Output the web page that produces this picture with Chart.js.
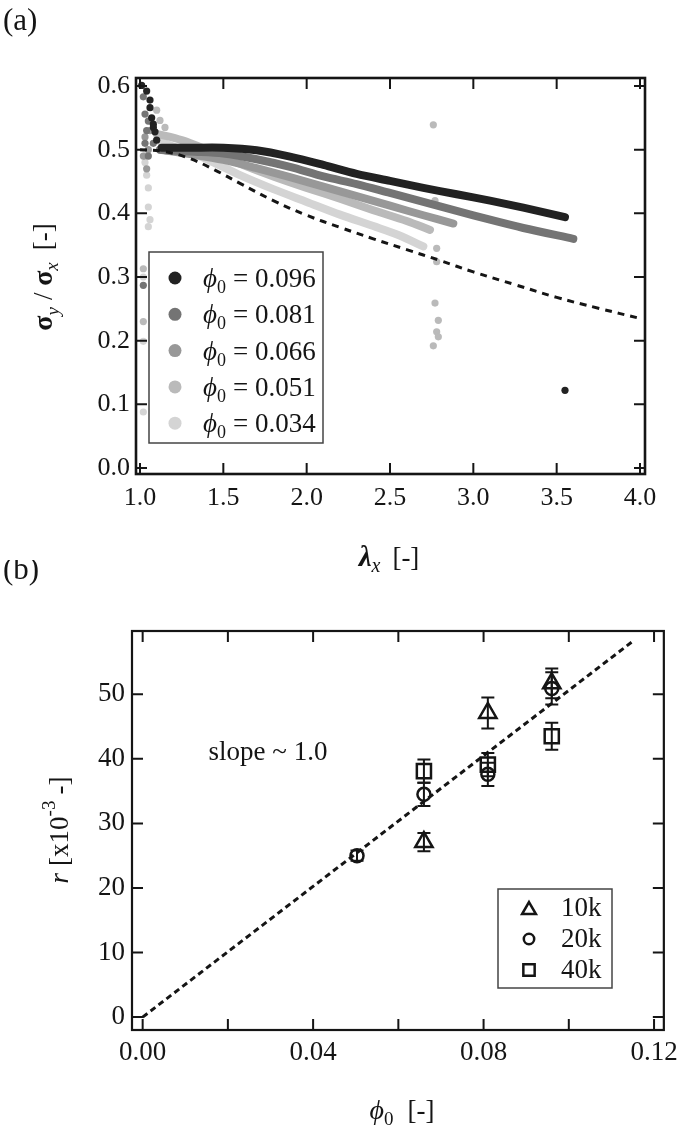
<!DOCTYPE html>
<html>
<head>
<meta charset="utf-8">
<script src="https://cdn.jsdelivr.net/npm/chart.js@4.4.1/dist/chart.umd.min.js"></script>
<style>
html, body { margin: 0; padding: 0; background: #fff; }
#chartA { position: absolute; left: 0; top: 0; }
#chartB { position: absolute; left: 0; top: 560px; }
</style>
</head>
<body>
<canvas id="chartA" width="685" height="600"></canvas>
<canvas id="chartB" width="685" height="566"></canvas>
<script>
// ---------- panel (a): sigma_y / sigma_x vs lambda_x ----------
const phiLabels = ['0.096', '0.081', '0.066', '0.051', '0.034'];
const greys = ['#222222', '#747474', '#989898', '#bababa', '#d4d4d4'];

// dense bands, read along the middle of each band
const band096 = [[1.13, 0.503], [1.3, 0.503], [1.5, 0.503], [1.7, 0.499], [1.9, 0.489], [2.1, 0.476], [2.3, 0.462],
                 [2.5, 0.451], [2.7, 0.44], [2.9, 0.43], [3.1, 0.42], [3.3, 0.409], [3.55, 0.394]];
const band081 = [[1.12, 0.5], [1.3, 0.497], [1.5, 0.494], [1.7, 0.485], [1.9, 0.473], [2.1, 0.458], [2.3, 0.446],
                 [2.5, 0.432], [2.7, 0.418], [2.9, 0.404], [3.1, 0.39], [3.3, 0.377], [3.6, 0.36]];
const band066 = [[1.12, 0.5], [1.3, 0.493], [1.5, 0.484], [1.7, 0.471], [1.9, 0.457], [2.1, 0.442], [2.3, 0.427],
                 [2.5, 0.412], [2.7, 0.397], [2.88, 0.384]];
const band051 = [[1.1, 0.525], [1.25, 0.515], [1.4, 0.5], [1.6, 0.478], [1.8, 0.458], [2.0, 0.44], [2.2, 0.423],
                 [2.4, 0.405], [2.6, 0.388], [2.74, 0.374]];
const band034 = [[1.1, 0.515], [1.25, 0.5], [1.4, 0.485], [1.6, 0.46], [1.8, 0.438], [2.0, 0.418], [2.2, 0.398],
                 [2.4, 0.38], [2.55, 0.366], [2.7, 0.348]];

// loose points (start of loading, end of test)
const loose096 = [[1.01, 0.601], [1.04, 0.592], [1.06, 0.578], [1.06, 0.566], [1.07, 0.55], [1.08, 0.54],
                  [1.09, 0.528], [1.08, 0.535], [1.1, 0.515], [3.55, 0.122]];
const loose081 = [[1.02, 0.583], [1.03, 0.556], [1.05, 0.545], [1.04, 0.53], [1.03, 0.51], [1.02, 0.287],
                  [1.05, 0.49], [1.08, 0.51]];
const loose066 = [[1.03, 0.52], [1.05, 0.5], [1.02, 0.49], [1.06, 0.53], [1.04, 0.47]];
const loose051 = [[1.1, 0.562], [1.12, 0.546], [1.15, 0.535], [1.03, 0.49], [1.02, 0.313], [1.02, 0.23],
                  [2.76, 0.539], [2.77, 0.42], [2.78, 0.345], [2.78, 0.324], [2.77, 0.259], [2.79, 0.232],
                  [2.78, 0.214], [2.79, 0.206], [2.76, 0.192]];
const loose034 = [[1.03, 0.48], [1.04, 0.46], [1.05, 0.44], [1.05, 0.41], [1.06, 0.39], [1.05, 0.379],
                  [1.02, 0.199], [1.02, 0.088], [1.02, 0.3]];

const modelCurve = [[1.0, 0.5], [1.15, 0.497], [1.3, 0.486], [1.45, 0.468], [1.6, 0.447], [1.8, 0.42], [2.0, 0.397],
                    [2.2, 0.378], [2.4, 0.36], [2.6, 0.343], [2.8, 0.326], [3.0, 0.308], [3.25, 0.288],
                    [3.5, 0.268], [3.75, 0.251], [4.0, 0.235]];

// ---------- panel (b): r vs phi_0 ----------
const sizeLabels = ['10k', '20k', '40k'];
const phi10k = [0.066, 0.081, 0.096];
const r10k = [27.1, 47.1, 51.7];
const err10k = [1.4, 2.4, 2.3];
const phi20k = [0.0503, 0.066, 0.081, 0.096];
const r20k = [25.0, 34.5, 37.6, 50.9];
const err20k = [0.8, 1.8, 1.8, 2.5];
const phi40k = [0.066, 0.081, 0.096];
const r40k = [38.1, 39.1, 43.5];
const err40k = [1.8, 1.8, 2.1];
const slopeLine = [[0, 0], [0.115, 58.2]];

const SERIF = '"Liberation Serif", "Times New Roman", serif';
const INK = '#151515';

const toXY = arr => arr.map(p => ({ x: p[0], y: p[1] }));
const zipXY = (xs, ys) => xs.map((x, i) => ({ x: x, y: ys[i] }));

function drawRich(ctx, parts, cx, cy, angle) {
    ctx.save();
    ctx.translate(cx, cy);
    ctx.rotate(angle || 0);
    let w = 0;
    parts.forEach(p => {
        ctx.font = p.font;
        p.w = ctx.measureText(p.text).width + (p.gap || 0);
        w += p.w;
    });
    let x = -w / 2;
    ctx.fillStyle = INK;
    ctx.textBaseline = 'alphabetic';
    parts.forEach(p => {
        ctx.font = p.font;
        ctx.fillText(p.text, x, p.dy || 0);
        x += p.w;
    });
    ctx.restore();
}

// box frame + inward ticks on all four sides
const framePlugin = {
    id: 'frame',
    afterDatasetsDraw(chart, args, opts) {
        const { ctx, chartArea: a } = chart;
        const x = chart.scales.x, y = chart.scales.y;
        ctx.save();
        ctx.strokeStyle = INK;
        ctx.lineWidth = opts.tickWidth;
        ctx.beginPath();
        x.ticks.forEach(t => {
            const px = x.getPixelForValue(t.value);
            ctx.moveTo(px, a.bottom); ctx.lineTo(px, a.bottom - opts.tickLen);
            ctx.moveTo(px, a.top); ctx.lineTo(px, a.top + opts.tickLen);
        });
        y.ticks.forEach(t => {
            const py = y.getPixelForValue(t.value);
            ctx.moveTo(a.left, py); ctx.lineTo(a.left + opts.tickLen, py);
            ctx.moveTo(a.right, py); ctx.lineTo(a.right - opts.tickLen, py);
        });
        ctx.stroke();
        ctx.lineWidth = opts.frameWidth;
        ctx.strokeRect(a.left, a.top, a.right - a.left, a.bottom - a.top);
        ctx.restore();
    }
};

const legendAPlugin = {
    id: 'legendA',
    afterDraw(chart) {
        const ctx = chart.ctx;
        ctx.save();
        ctx.strokeStyle = '#444';
        ctx.lineWidth = 1.5;
        ctx.strokeRect(149, 252, 174, 191);
        phiLabels.forEach((lab, i) => {
            const yy = 278 + i * 36.3;
            ctx.fillStyle = greys[i];
            ctx.beginPath();
            ctx.arc(175, yy, 6.5, 0, Math.PI * 2);
            ctx.fill();
            ctx.textAlign = 'left';
            ctx.fillStyle = INK;
            ctx.textBaseline = 'alphabetic';
            ctx.font = 'italic 27px ' + SERIF;
            ctx.fillText('\u03D5', 203, yy + 9);
            ctx.font = '18px ' + SERIF;
            ctx.fillText('0', 217, yy + 15);
            ctx.font = '27px ' + SERIF;
            ctx.fillText('= ' + lab, 233, yy + 9);
        });
        ctx.restore();
    }
};

const textAPlugin = {
    id: 'textA',
    afterDraw(chart) {
        const ctx = chart.ctx;
        ctx.save();
        ctx.fillStyle = INK;
        ctx.font = '31px ' + SERIF;
        ctx.textBaseline = 'middle';
        ctx.fillText('(a)', 3, 22);
        ctx.restore();
        drawRich(ctx, [
            { text: '\u03BB', font: 'italic bold 29px ' + SERIF },
            { text: 'x', font: 'italic 20px ' + SERIF, dy: 6, gap: 12 },
            { text: '[-]', font: '27px ' + SERIF }
        ], 389, 566);
        drawRich(ctx, [
            { text: '\u03C3', font: 'bold 28px ' + SERIF },
            { text: 'y', font: 'italic 19px ' + SERIF, dy: 7, gap: 7 },
            { text: '/ ', font: '27px ' + SERIF },
            { text: '\u03C3', font: 'bold 28px ' + SERIF },
            { text: 'x', font: 'italic 19px ' + SERIF, dy: 6, gap: 12 },
            { text: '[-]', font: '27px ' + SERIF }
        ], 52, 277, -Math.PI / 2);
    }
};

const bandSets = [band096, band081, band066, band051, band034];
const looseSets = [loose096, loose081, loose066, loose051, loose034];
const datasetsA = [{
    data: toXY(modelCurve), showLine: true, pointRadius: 0, borderColor: INK,
    borderWidth: 3, borderDash: [7, 6], tension: 0.4
}];
bandSets.forEach((band, i) => {
    datasetsA.push({
        data: toXY(band), showLine: true, pointRadius: 0, borderColor: greys[i],
        borderWidth: 8, borderCapStyle: 'round', borderJoinStyle: 'round', tension: 0.3
    });
    datasetsA.push({
        data: toXY(looseSets[i]), showLine: false, pointRadius: 3.6, pointBorderWidth: 0,
        backgroundColor: greys[i], borderColor: greys[i]
    });
});

const tickFont = size => ({ family: SERIF, size: size });

new Chart(document.getElementById('chartA'), {
    type: 'scatter',
    data: { datasets: datasetsA },
    options: {
        responsive: false,
        animation: false,
        layout: { padding: { left: 0, right: 40, top: 78, bottom: 40 } },
        plugins: {
            legend: { display: false },
            tooltip: { enabled: false },
            frame: { tickLen: 11, tickWidth: 2, frameWidth: 2.6 }
        },
        scales: {
            x: {
                type: 'linear', min: 0.976, max: 4.03,
                grid: { display: false, drawTicks: false }, border: { display: false },
                ticks: { stepSize: 0.5, includeBounds: false, autoSkip: false, maxRotation: 0, padding: 9,
                         color: INK, font: tickFont(26), callback: v => v.toFixed(1) },
                afterFit: s => { s.height = 86; }
            },
            y: {
                type: 'linear', min: -0.0094, max: 0.6126,
                grid: { display: false, drawTicks: false }, border: { display: false },
                ticks: { stepSize: 0.1, includeBounds: false, autoSkip: false, padding: 6,
                         color: INK, font: tickFont(26), callback: v => v.toFixed(1) },
                afterFit: s => { s.width = 136; }
            }
        }
    },
    plugins: [framePlugin, legendAPlugin, textAPlugin]
});

// ---------- chart (b) ----------
const errSets = [err10k, err20k, err40k];

const errorBarPlugin = {
    id: 'errorBars',
    beforeDatasetsDraw(chart) {
        const ctx = chart.ctx, y = chart.scales.y;
        ctx.save();
        ctx.strokeStyle = INK;
        ctx.lineWidth = 2;
        chart.data.datasets.forEach((ds, i) => {
            if (!ds.errors) return;
            chart.getDatasetMeta(i).data.forEach((el, j) => {
                const v = ds.data[j].y, e = ds.errors[j];
                const top = y.getPixelForValue(v + e), bot = y.getPixelForValue(v - e);
                ctx.beginPath();
                ctx.moveTo(el.x, top); ctx.lineTo(el.x, bot);
                ctx.moveTo(el.x - 6.5, top); ctx.lineTo(el.x + 6.5, top);
                ctx.moveTo(el.x - 6.5, bot); ctx.lineTo(el.x + 6.5, bot);
                ctx.stroke();
            });
        });
        ctx.restore();
    }
};

const markerStyles = [
    { pointStyle: 'triangle', radius: 10 },
    { pointStyle: 'circle', radius: 6.5 },
    { pointStyle: 'rect', radius: 10 }
];

const legendBPlugin = {
    id: 'legendB',
    afterDraw(chart) {
        const ctx = chart.ctx;
        ctx.save();
        ctx.strokeStyle = '#444';
        ctx.lineWidth = 1.5;
        ctx.strokeRect(498, 329, 114, 99);
        sizeLabels.forEach((lab, i) => {
            const yy = 348 + i * 31;
            const m = markerStyles[i];
            ctx.strokeStyle = INK;
            ctx.fillStyle = 'rgba(0,0,0,0)';
            ctx.lineWidth = 2.5;
            Chart.helpers.drawPoint(ctx, {
                pointStyle: m.pointStyle, radius: m.radius * 0.8, rotation: 0, borderWidth: 2.5
            }, 529, yy + (i === 0 ? 2 : 0));
            ctx.fillStyle = INK;
            ctx.font = '27px ' + SERIF;
            ctx.textBaseline = 'middle';
            ctx.fillText(lab, 561, yy + 1);
        });
        ctx.restore();
    }
};

const textBPlugin = {
    id: 'textB',
    afterDraw(chart) {
        const ctx = chart.ctx;
        ctx.save();
        ctx.fillStyle = INK;
        ctx.font = '31px ' + SERIF;
        ctx.textBaseline = 'middle';
        ctx.fillText('(b)', 3, 11);
        ctx.font = '27px ' + SERIF;
        ctx.textAlign = 'center';
        ctx.fillText('slope ~ 1.0', 268, 193);
        ctx.restore();
        drawRich(ctx, [
            { text: '\u03D5', font: 'italic 28px ' + SERIF },
            { text: '0', font: '19px ' + SERIF, dy: 6, gap: 14 },
            { text: '[-]', font: '27px ' + SERIF }
        ], 402, 559);
        drawRich(ctx, [
            { text: 'r', font: 'italic 27px ' + SERIF, gap: 7 },
            { text: '[x10', font: '27px ' + SERIF },
            { text: '-3', font: '19px ' + SERIF, dy: -13, gap: 6 },
            { text: '-]', font: '27px ' + SERIF }
        ], 68, 270, -Math.PI / 2);
    }
};

const seriesB = [zipXY(phi10k, r10k), zipXY(phi20k, r20k), zipXY(phi40k, r40k)];
const datasetsB = [{
    data: toXY(slopeLine), showLine: true, pointRadius: 0, borderColor: INK,
    borderWidth: 3, borderDash: [6, 4]
}];
seriesB.forEach((pts, i) => {
    datasetsB.push({
        data: pts, errors: errSets[i], showLine: false,
        pointStyle: markerStyles[i].pointStyle, pointRadius: markerStyles[i].radius,
        borderColor: INK, backgroundColor: 'rgba(0,0,0,0)', pointBorderWidth: 2.5
    });
});

new Chart(document.getElementById('chartB'), {
    type: 'scatter',
    data: { datasets: datasetsB },
    options: {
        responsive: false,
        animation: false,
        layout: { padding: { left: 0, right: 18, top: 71, bottom: 0 } },
        plugins: {
            legend: { display: false },
            tooltip: { enabled: false },
            frame: { tickLen: 11, tickWidth: 2, frameWidth: 2.2 }
        },
        scales: {
            x: {
                type: 'linear', min: -0.0025, max: 0.1223,
                grid: { display: false, drawTicks: false }, border: { display: false },
                ticks: { stepSize: 0.02, includeBounds: false, autoSkip: false, maxRotation: 0, padding: 7,
                         color: INK, font: tickFont(27),
                         callback: v => (Math.round(v * 100) % 4 === 0 ? v.toFixed(2) : '') },
                afterFit: s => { s.height = 96; }
            },
            y: {
                type: 'linear', min: -2, max: 59.8,
                grid: { display: false, drawTicks: false }, border: { display: false },
                ticks: { stepSize: 10, includeBounds: false, autoSkip: false, padding: 7,
                         color: INK, font: tickFont(27) },
                afterFit: s => { s.width = 132; }
            }
        }
    },
    plugins: [framePlugin, errorBarPlugin, legendBPlugin, textBPlugin]
});
</script>
</body>
</html>
